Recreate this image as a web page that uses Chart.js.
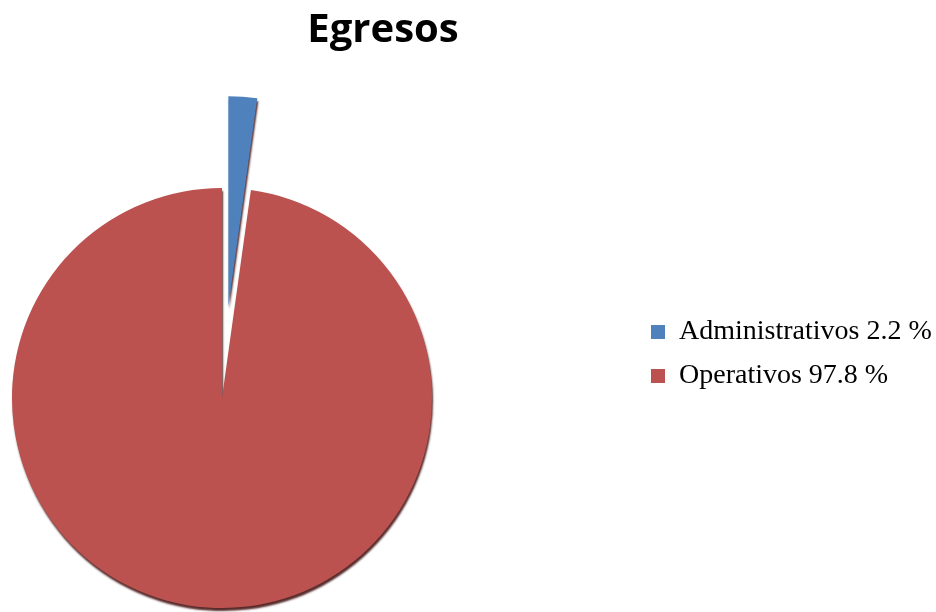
<!DOCTYPE html>
<html>
<head>
<meta charset="utf-8">
<title>Egresos</title>
<script src="https://cdn.jsdelivr.net/npm/chart.js@4.4.1/dist/chart.umd.min.js"></script>
<style>
  html, body { margin: 0; padding: 0; background: #fff; }
  #wrap { width: 936px; height: 612px; }
</style>
</head>
<body>
<div id="wrap"><canvas id="egresosChart"></canvas></div>
<script>
// data
const categories = ['Administrativos', 'Operativos'];
const shares = [2.2, 97.8];           // percent
const sliceColors = ['#4F81BD', '#BC524F'];
const pullOut = [92, 0];              // how far each slice is pulled away from the centre, px

const legendLabels = categories.map(function(c, i) {
    return c + ' ' + shares[i] + ' %';
});

// put pie on the left, title and legend where the excel sheet had them
const sheetLayout = {
    id: 'sheetLayout',
    afterLayout: function(chart) {
        var a = chart.chartArea;
        a.left = 12; a.right = 432; a.width = 420;
        a.top = 188; a.bottom = 608; a.height = 420;

        chart.titleBlock.left = 0;
        chart.titleBlock.right = 766;

        var lg = chart.legend;
        var w = lg.width;
        lg.left = 635; lg.right = 635 + w;
        lg.top = 302; lg.bottom = 302 + lg.height;
    }
};

// excel style explode: slide the slice out along its middle angle
// (chart.js offset also grows the radius, which the original doesnt do)
const explodeSlices = {
    id: 'explodeSlices',
    afterDatasetsUpdate: function(chart) {
        chart.getDatasetMeta(0).data.forEach(function(arc, i) {
            var d = pullOut[i];
            if (!d) return;
            var mid = (arc.startAngle + arc.endAngle) / 2;
            arc.x += Math.cos(mid) * d;
            arc.y += Math.sin(mid) * d;
        });
    }
};

// thin dark rim under the pie (the 3d look)
const pieRim = {
    id: 'pieRim',
    beforeDatasetsDraw: function(chart) {
        var ctx = chart.ctx;
        ctx.save();
        ctx.shadowColor = 'rgba(70, 20, 20, 0.9)';
        ctx.shadowOffsetX = 1;
        ctx.shadowOffsetY = 3;
        ctx.shadowBlur = 2;
    },
    afterDatasetsDraw: function(chart) {
        chart.ctx.restore();
    }
};

function drawChart() {
    var grapharea = document.getElementById('egresosChart');
    const data = {
        labels: legendLabels,
        datasets: [{
            data: shares,
            backgroundColor: sliceColors,
            borderWidth: 0,
            hoverOffset: 0,
            clip: false
        }]
    };
    const config = {
        type: 'pie',
        data: data,
        options: {
            responsive: true,
            maintainAspectRatio: false,
            animation: false,
            radius: 210,
            layout: { padding: 0 },
            plugins: {
                title: {
                    display: true,
                    text: 'Egresos',
                    color: '#000',
                    font: { family: 'Open Sans', size: 40, weight: 'bold' },
                    padding: { top: 7, bottom: 0 }
                },
                legend: {
                    position: 'right',
                    align: 'start',
                    labels: {
                        color: '#000',
                        boxWidth: 14,
                        boxHeight: 14,
                        padding: 16,
                        font: { family: 'Liberation Serif', size: 28 }
                    }
                },
                tooltip: { enabled: false }
            }
        },
        plugins: [sheetLayout, explodeSlices, pieRim]
    };
    new Chart(grapharea, config);
}
drawChart();
</script>
</body>
</html>
